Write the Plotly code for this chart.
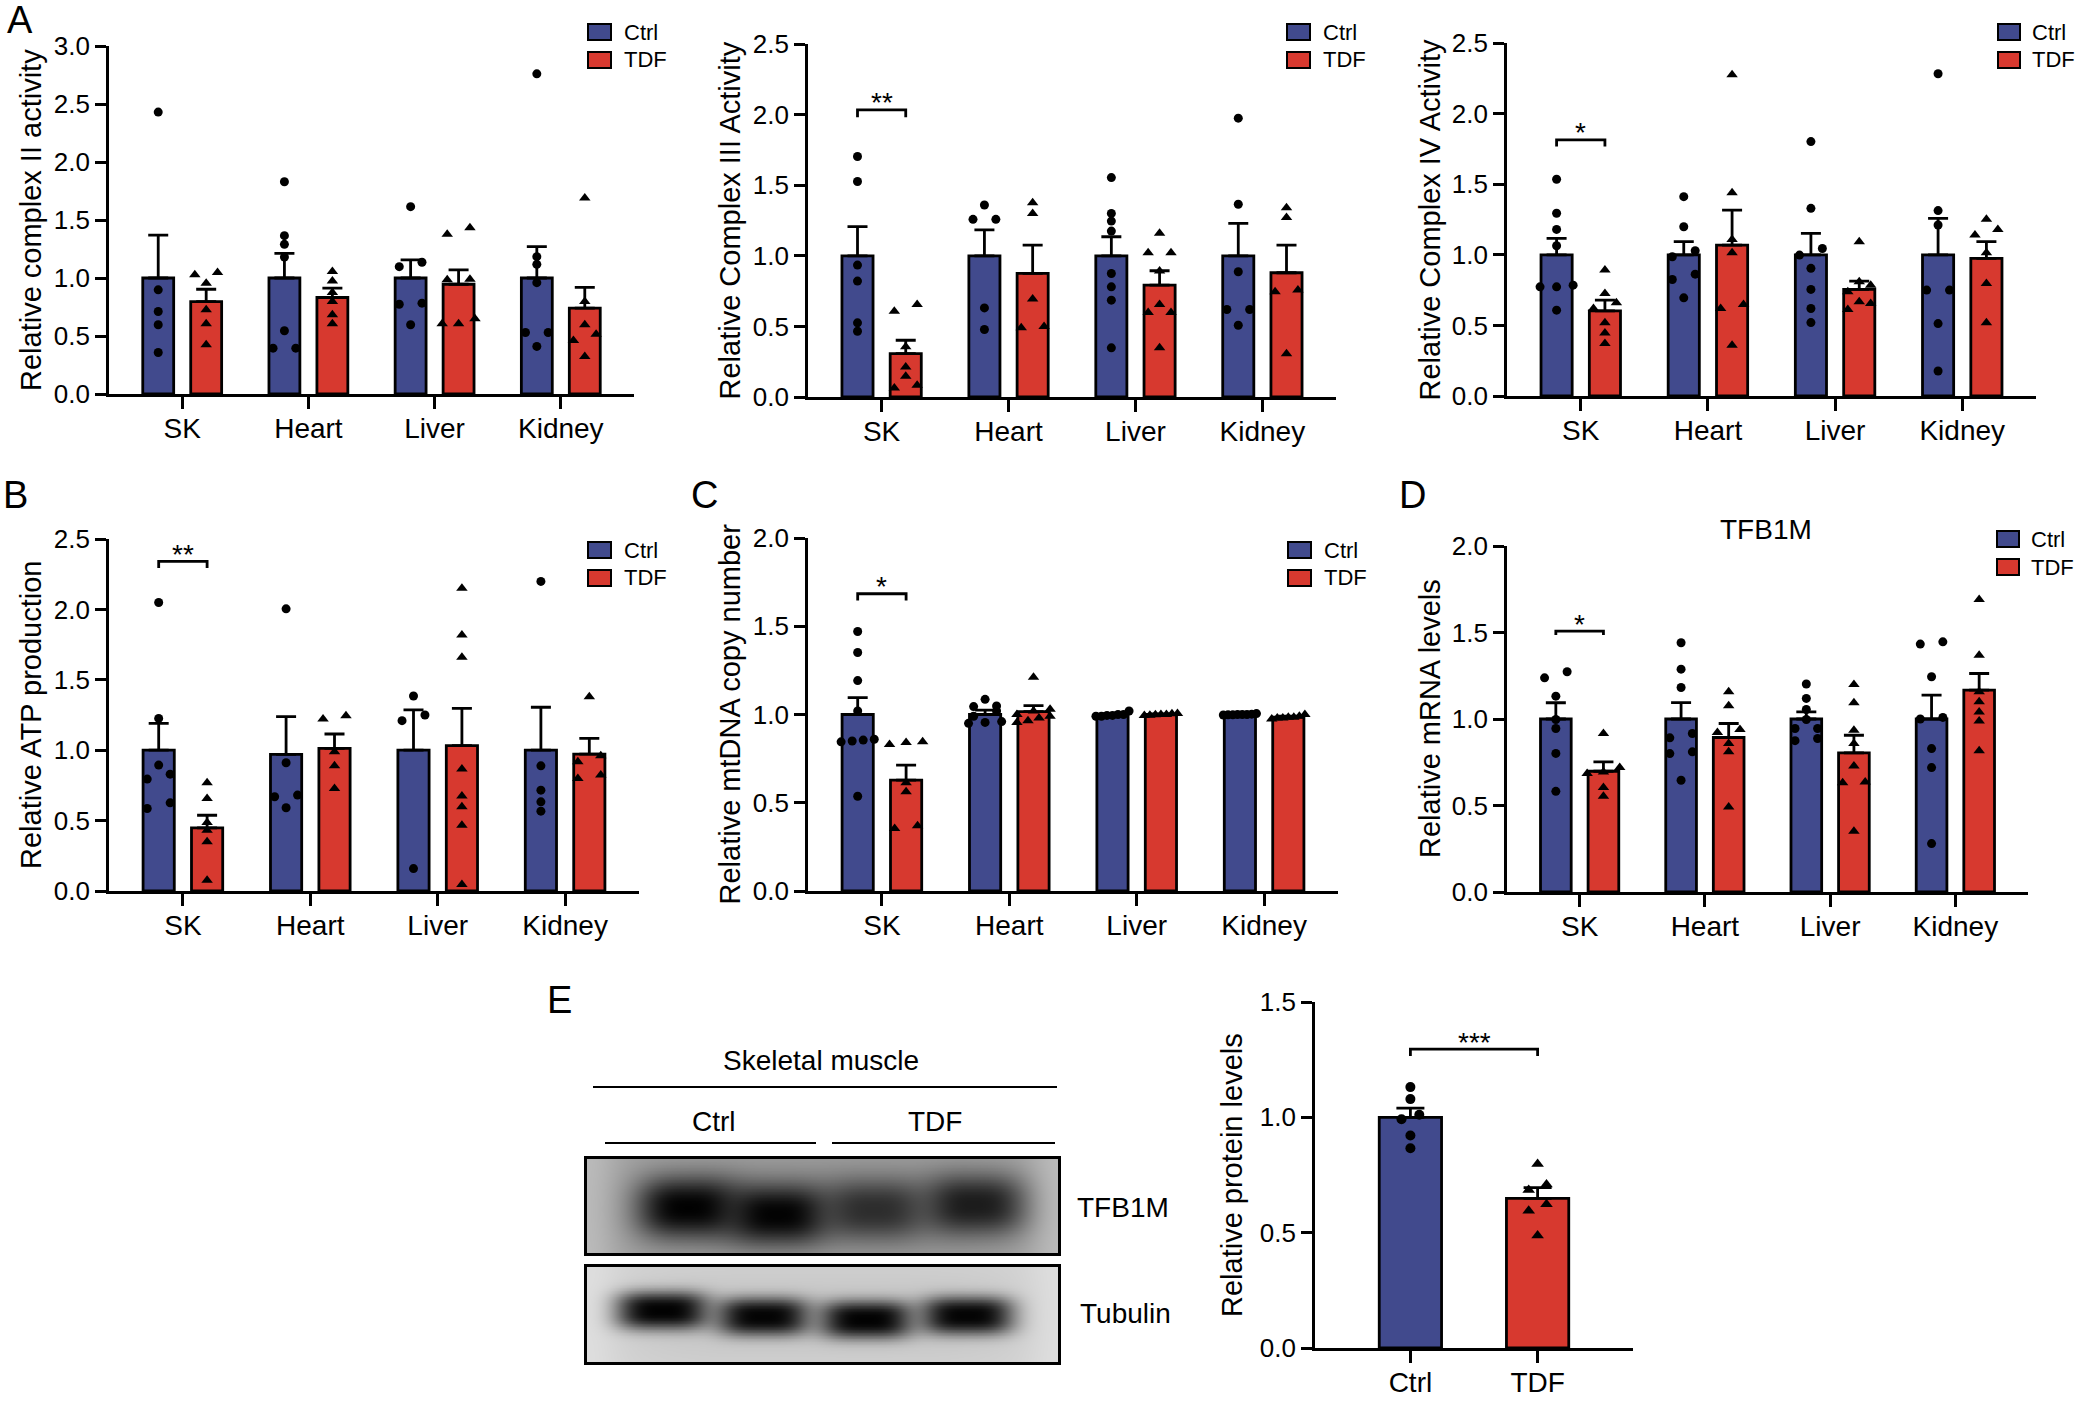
import numpy as np
import plotly.graph_objects as go

W, H = 2079, 1402
FONT = "Arial, 'Liberation Sans', Helvetica, sans-serif"
CTRL_COLOR = "#414a8d"
TDF_COLOR = "#d7392f"

# ---------------- data ----------------
organs = ["SK", "Heart", "Liver", "Kidney"]

# A - Complex II
c2_ctrl_mean = [1.0, 1.0, 1.0, 1.0]
c2_ctrl_sem = [0.37, 0.213, 0.156, 0.27]
c2_tdf_mean = [0.797, 0.832, 0.946, 0.74]
c2_tdf_sem = [0.106, 0.08, 0.124, 0.18]
c2_ctrl_pts = [[2.43, 0.898, 0.711, 0.597, 0.358],
               [1.83, 1.365, 1.29, 1.18, 0.545, 0.395, 0.395],
               [1.615, 1.136, 1.098, 0.783, 0.774, 0.597],
               [2.76, 1.184, 1.118, 0.96, 0.53, 0.53, 0.41]]
c2_tdf_pts = [[1.027, 1.047, 0.955, 0.726, 0.605, 0.424],
              [1.055, 0.975, 0.875, 0.797, 0.683, 0.605],
              [1.434, 1.377, 0.984, 0.99, 0.648, 0.605, 0.605],
              [1.69, 0.797, 0.597, 0.516, 0.462, 0.324]]

# A - Complex III
c3_ctrl_mean = [1.0, 1.0, 1.0, 1.0]
c3_ctrl_sem = [0.206, 0.183, 0.135, 0.23]
c3_tdf_mean = [0.307, 0.875, 0.792, 0.88]
c3_tdf_sem = [0.095, 0.201, 0.102, 0.196]
c3_ctrl_pts = [[1.703, 1.526, 0.934, 0.821, 0.525, 0.466],
               [1.36, 1.258, 1.258, 0.631, 0.478],
               [1.554, 1.30, 1.246, 1.175, 0.875, 0.78, 0.686, 0.348],
               [1.975, 1.365, 0.887, 0.62, 0.62, 0.508]]
c3_tdf_pts = [[0.655, 0.608, 0.355, 0.213, 0.147, 0.083, 0.064],
              [1.376, 1.30, 0.694, 0.49, 0.50],
              [1.159, 1.022, 1.022, 0.892, 0.655, 0.598, 0.598, 0.348],
              [1.341, 1.272, 0.757, 0.745, 0.307]]

# A - Complex IV
c4_ctrl_mean = [1.0, 1.0, 1.0, 1.0]
c4_ctrl_sem = [0.116, 0.093, 0.152, 0.258]
c4_tdf_mean = [0.603, 1.069, 0.755, 0.974]
c4_tdf_sem = [0.076, 0.248, 0.059, 0.119]
c4_ctrl_pts = [[1.535, 1.294, 1.18, 1.064, 0.785, 0.773, 0.773, 0.608],
               [1.412, 1.199, 1.029, 0.986, 0.863, 0.825, 0.695],
               [1.802, 1.329, 1.045, 0.998, 0.904, 0.755, 0.62, 0.52],
               [2.282, 1.313, 1.211, 0.75, 0.75, 0.513, 0.177]]
c4_tdf_pts = [[0.892, 0.726, 0.66, 0.62, 0.518, 0.447, 0.371],
              [2.275, 1.44, 1.109, 1.015, 0.648, 0.62, 0.36],
              [1.093, 0.809, 0.785, 0.738, 0.667, 0.655, 0.613],
              [1.251, 1.18, 1.14, 1.015, 0.797, 0.518]]

# B - ATP production
atp_ctrl_mean = [1.0, 0.97, 1.0, 1.0]
atp_ctrl_sem = [0.19, 0.268, 0.286, 0.305]
atp_tdf_mean = [0.448, 1.013, 1.032, 0.972]
atp_tdf_sem = [0.09, 0.102, 0.265, 0.112]
atp_ctrl_pts = [[2.049, 1.226, 0.894, 0.83, 0.795, 0.626, 0.586],
                [2.004, 0.911, 0.681, 0.669, 0.591],
                [1.385, 1.25, 1.21, 0.159],
                [2.199, 0.889, 0.716, 0.633, 0.567]]
atp_tdf_pts = [[0.768, 0.657, 0.486, 0.432, 0.349, 0.076],
               [1.245, 1.222, 0.989, 0.889, 0.728],
               [2.151, 1.819, 1.66, 0.866, 0.674, 0.598, 0.467, 0.047],
               [1.38, 0.96, 0.918, 0.823, 0.799]]

# C - mtDNA copy number
mt_ctrl_mean = [1.0, 1.0, 1.0, 1.0]
mt_ctrl_sem = [0.096, 0.025, 0.004, 0.003]
mt_tdf_mean = [0.628, 1.016, 1.0, 0.985]
mt_tdf_sem = [0.085, 0.034, 0.003, 0.006]
mt_ctrl_pts = [[1.47, 1.351, 1.192, 1.02, 0.86, 0.855, 0.85, 0.845, 0.537],
               [1.086, 1.048, 1.045, 1.02, 0.99, 0.96, 0.955, 0.95],
               [1.02, 1.0, 1.0, 0.995, 0.995, 0.99, 0.99],
               [1.005, 1.0, 1.0, 0.998, 0.997, 1.0, 1.002, 0.998]]
mt_tdf_pts = [[0.845, 0.83, 0.842, 0.613, 0.562, 0.369, 0.354],
              [1.211, 1.03, 1.02, 1.0, 0.99, 0.98, 0.965, 0.955],
              [1.005, 1.0, 1.0, 0.998, 0.996, 0.995, 1.004],
              [1.0, 0.99, 0.985, 0.98, 0.975, 0.98, 0.985]]

# D - TFB1M mRNA
mrna_ctrl_mean = [1.0, 1.0, 1.0, 1.0]
mrna_ctrl_sem = [0.094, 0.095, 0.041, 0.138]
mrna_tdf_mean = [0.698, 0.893, 0.804, 1.167]
mrna_tdf_sem = [0.054, 0.081, 0.102, 0.096]
mrna_ctrl_pts = [[1.273, 1.238, 1.132, 0.997, 0.945, 0.801, 0.582],
                 [1.441, 1.288, 1.182, 0.916, 0.891, 0.81, 0.8, 0.646],
                 [1.202, 1.119, 1.055, 0.997, 0.945, 0.945, 0.887, 0.875],
                 [1.433, 1.446, 1.244, 1.009, 1.0, 0.829, 0.719, 0.28]]
mrna_tdf_pts = [[0.916, 0.719, 0.694, 0.685, 0.604, 0.553],
                [1.157, 1.076, 0.939, 0.922, 0.858, 0.81, 0.492],
                [1.2, 1.094, 0.935, 0.858, 0.729, 0.636, 0.631, 0.351],
                [1.691, 1.369, 1.157, 1.099, 1.041, 0.989, 0.816]]

# E - protein levels
prot_groups = ["Ctrl", "TDF"]
prot_mean = [1.0, 0.649]
prot_sem = [0.04, 0.046]
prot_ctrl_pts = [1.131, 1.079, 1.011, 0.992, 0.921, 0.866]
prot_tdf_pts = [0.798, 0.709, 0.685, 0.623, 0.595, 0.488]

# blot band darkness (0..1)
tfb1m_band_strength = [0.99, 0.98, 0.66, 0.8]
tubulin_band_strength = [0.99, 0.98, 0.99, 0.98]

# significance brackets: (bracket top, tick bottom, label)
c3_sig = (2.034, 1.982, "**")
c4_sig = (1.814, 1.767, "*")
atp_sig = (2.341, 2.294, "**")
mt_sig = (1.684, 1.646, "*")
mrna_sig = (1.508, 1.485, "*")
prot_sig = (1.296, 1.266, "***")

# ---------------- helpers ----------------
def px(x):
    return x / W


def py(y):
    return 1 - y / H


def swarm(vals, pxpu, d=0.18, maxspread=0.26, tol_px=7.0):
    order = sorted(range(len(vals)), key=lambda i: vals[i])
    offs = [0.0] * len(vals)
    rows = []
    for i in order:
        if rows and (vals[i] - vals[rows[-1][0]]) * pxpu < tol_px:
            rows[-1].append(i)
        else:
            rows.append([i])
    for row in rows:
        k = len(row)
        if k > 1:
            spread = min((k - 1) * d, maxspread)
            for j, i in enumerate(row):
                offs[i] = -spread / 2 + spread * j / (k - 1)
    return offs


fig = go.Figure()
layout = dict(width=W, height=H, margin=dict(l=0, r=0, t=0, b=0, pad=0), autosize=False,
              template="none",
              paper_bgcolor="white", plot_bgcolor="rgba(0,0,0,0)",
              barmode="overlay", showlegend=False,
              font=dict(family=FONT, color="black"))
annotations = []
shapes = []

OFF = 0.19
BW = 0.245
LW = 2.8
XSTAND = -5

panels = [
    dict(x0=109, x1=634, ytop=46, ybot=394, ymax=3.0, title="Relative complex II activity", tx=31,
         cm=c2_ctrl_mean, cs=c2_ctrl_sem, tm=c2_tdf_mean, ts=c2_tdf_sem, cp=c2_ctrl_pts, tp=c2_tdf_pts,
         sig=None, leg=(588, 611, 32, 60, 622)),
    dict(x0=808, x1=1336, ytop=44, ybot=397, ymax=2.5, title="Relative Complex III Activity", tx=729,
         cm=c3_ctrl_mean, cs=c3_ctrl_sem, tm=c3_tdf_mean, ts=c3_tdf_sem, cp=c3_ctrl_pts, tp=c3_tdf_pts,
         sig=c3_sig, leg=(1287, 1310, 32, 60, 1321)),
    dict(x0=1507, x1=2036, ytop=43, ybot=396, ymax=2.5, title="Relative Complex IV Activity", tx=1429,
         cm=c4_ctrl_mean, cs=c4_ctrl_sem, tm=c4_tdf_mean, ts=c4_tdf_sem, cp=c4_ctrl_pts, tp=c4_tdf_pts,
         sig=c4_sig, leg=(1998, 2020, 32, 60, 2030)),
    dict(x0=109, x1=639, ytop=539, ybot=891, ymax=2.5, title="Relative ATP production", tx=31,
         cm=atp_ctrl_mean, cs=atp_ctrl_sem, tm=atp_tdf_mean, ts=atp_tdf_sem, cp=atp_ctrl_pts, tp=atp_tdf_pts,
         sig=atp_sig, leg=(588, 611, 550, 578, 622)),
    dict(x0=808, x1=1338, ytop=538, ybot=891, ymax=2.0, title="Relative mtDNA copy number", tx=729,
         cm=mt_ctrl_mean, cs=mt_ctrl_sem, tm=mt_tdf_mean, ts=mt_tdf_sem, cp=mt_ctrl_pts, tp=mt_tdf_pts,
         sig=mt_sig, leg=(1288, 1311, 550, 578, 1322)),
    dict(x0=1507, x1=2028, ytop=546, ybot=892, ymax=2.0, title="Relative mRNA levels", tx=1430,
         cm=mrna_ctrl_mean, cs=mrna_ctrl_sem, tm=mrna_tdf_mean, ts=mrna_tdf_sem, cp=mrna_ctrl_pts, tp=mrna_tdf_pts,
         sig=mrna_sig, leg=(1997, 2019, 539, 567, 2029)),
]


def axis_common():
    return dict(showline=True, linecolor="black", linewidth=LW, ticks="outside",
                tickwidth=LW, tickcolor="black", showgrid=False, zeroline=False,
                fixedrange=True, automargin=False)


for i, p in enumerate(panels, start=1):
    xr = "x" if i == 1 else f"x{i}"
    yr = "y" if i == 1 else f"y{i}"
    xa = "xaxis" if i == 1 else f"xaxis{i}"
    ya = "yaxis" if i == 1 else f"yaxis{i}"
    n = len(organs)
    layout[xa] = dict(axis_common(), domain=[px(p["x0"]), px(p["x1"])], range=[-0.58, n - 1 + 0.58],
                      tickvals=list(range(n)), ticktext=organs, ticklen=12,
                      tickfont=dict(size=28, family=FONT, color="black"), anchor=yr,
                      ticklabelstandoff=XSTAND)
    layout[ya] = dict(axis_common(), domain=[py(p["ybot"]), py(p["ytop"])], range=[0, p["ymax"]],
                      dtick=0.5, tick0=0, tickformat=".1f", ticklen=11,
                      tickfont=dict(size=26, family=FONT, color="black"), anchor=xr)
    pxpu = (p["ybot"] - p["ytop"]) / p["ymax"]
    for mean, sem, pts, color, sign, sym, msize in [
        (p["cm"], p["cs"], p["cp"], CTRL_COLOR, -1, "circle", 9),
        (p["tm"], p["ts"], p["tp"], TDF_COLOR, 1, "triangle-up", 10),
    ]:
        xs = [k + sign * OFF for k in range(n)]
        fig.add_trace(go.Bar(x=xs, y=mean, width=BW, xaxis=xr, yaxis=yr,
                             marker=dict(color=color, line=dict(color="black", width=LW)),
                             error_y=dict(type="data", symmetric=False, array=sem,
                                          arrayminus=[0] * n, color="black",
                                          thickness=LW, width=10),
                             hoverinfo="skip"))
        px_list, py_list = [], []
        for k, vals in enumerate(pts):
            offs = swarm(vals, pxpu)
            px_list += [xs[k] + o for o in offs]
            py_list += list(vals)
        fig.add_trace(go.Scatter(x=px_list, y=py_list, mode="markers", xaxis=xr, yaxis=yr,
                                 marker=dict(symbol=sym, size=msize, color="black", line=dict(width=0)),
                                 cliponaxis=False, hoverinfo="skip"))
    if p["sig"]:
        top, bot, lab = p["sig"]
        fig.add_trace(go.Scatter(x=[-OFF, -OFF, OFF, OFF], y=[bot, top, top, bot], mode="lines",
                                 xaxis=xr, yaxis=yr, line=dict(color="black", width=LW),
                                 cliponaxis=False, hoverinfo="skip"))
        annotations.append(dict(x=0, y=top, xref=xr, yref=yr, text=lab, showarrow=False,
                                xanchor="center", yanchor="middle", yshift=7,
                                font=dict(size=28, family=FONT, color="black")))
    # y title
    annotations.append(dict(x=px(p["tx"]), y=py((p["ytop"] + p["ybot"]) / 2), xref="paper", yref="paper",
                            text=p["title"], textangle=-90, showarrow=False,
                            xanchor="center", yanchor="middle",
                            font=dict(size=29, family=FONT, color="black")))
    # legend
    lx0, lx1, yc, yt, tx = p["leg"]
    for yy, col, lab in [(yc, CTRL_COLOR, "Ctrl"), (yt, TDF_COLOR, "TDF")]:
        shapes.append(dict(type="rect", xref="paper", yref="paper",
                           x0=px(lx0), x1=px(lx1), y0=py(yy + 8), y1=py(yy - 8),
                           fillcolor=col, line=dict(color="black", width=2)))
        annotations.append(dict(x=px(tx), y=py(yy), xref="paper", yref="paper", text=lab,
                                showarrow=False, xanchor="left", yanchor="middle",
                                font=dict(size=22, family=FONT, color="black")))

# ---------------- panel E bar chart ----------------
layout["xaxis7"] = dict(axis_common(), domain=[px(1315), px(1633)], range=[-0.75, 1.75],
                        tickvals=[0, 1], ticktext=prot_groups, ticklen=12,
                        tickfont=dict(size=28, family=FONT, color="black"), anchor="y7",
                        ticklabelstandoff=XSTAND)
layout["yaxis7"] = dict(axis_common(), domain=[py(1348), py(1002)], range=[0, 1.5], dtick=0.5,
                        tick0=0, tickformat=".1f", ticklen=11,
                        tickfont=dict(size=26, family=FONT, color="black"), anchor="x7")
fig.add_trace(go.Bar(x=[0, 1], y=prot_mean, width=0.49, xaxis="x7", yaxis="y7",
                     marker=dict(color=[CTRL_COLOR, TDF_COLOR], line=dict(color="black", width=LW)),
                     error_y=dict(type="data", symmetric=False, array=prot_sem, arrayminus=[0, 0],
                                  color="black", thickness=LW, width=14),
                     hoverinfo="skip"))
pxpu_e = (1348 - 1002) / 1.5
for k, (vals, sym, ms) in enumerate([(prot_ctrl_pts, "circle", 10), (prot_tdf_pts, "triangle-up", 11)]):
    offs = swarm(vals, pxpu_e, d=0.14, maxspread=0.2)
    fig.add_trace(go.Scatter(x=[k + o for o in offs], y=vals, mode="markers", xaxis="x7", yaxis="y7",
                             marker=dict(symbol=sym, size=ms, color="black", line=dict(width=0)),
                             cliponaxis=False, hoverinfo="skip"))
top, bot, lab = prot_sig
fig.add_trace(go.Scatter(x=[0, 0, 1, 1], y=[bot, top, top, bot], mode="lines", xaxis="x7", yaxis="y7",
                         line=dict(color="black", width=LW), cliponaxis=False, hoverinfo="skip"))
annotations.append(dict(x=0.5, y=top, xref="x7", yref="y7", text=lab, showarrow=False,
                        xanchor="center", yanchor="middle", yshift=7,
                        font=dict(size=28, family=FONT, color="black")))
annotations.append(dict(x=px(1232), y=py(1175), xref="paper", yref="paper", text="Relative protein levels",
                        textangle=-90, showarrow=False, xanchor="center", yanchor="middle",
                        font=dict(size=29, family=FONT, color="black")))

# ---------------- western blot (heatmaps) ----------------
BL, BR = 587, 1058
blot_w = BR - BL


def blot_image(strengths, centers, cys, hgt, bg, wx, wy, ex, ey, halo, edge_light):
    xs = np.arange(0, blot_w + 1, 2.0)
    ys = np.arange(0, hgt + 1, 1.5)
    X, Y = np.meshgrid(xs, ys)
    keep = np.ones_like(X)
    for s, cx, cy in zip(strengths, centers, cys):
        prof = np.exp(-(np.abs(X - cx) / wx) ** ex - (np.abs(Y - cy) / wy) ** ey)
        keep *= (1 - s * prof)
    mid = np.mean(cys)
    base = bg + halo * np.exp(-((Y - mid) / (hgt * 0.5)) ** 2) * np.exp(-(np.abs(X - blot_w / 2) / (blot_w * 0.42)) ** 6)
    base -= edge_light * (np.exp(-(X / 30.0) ** 2) + np.exp(-((blot_w - X) / 30.0) ** 2))
    Z = 1 - (1 - np.clip(base, 0, 1)) * keep
    return xs, ys, Z


blots = [
    (8, 1159, 1253, tfb1m_band_strength, [101, 190, 287, 388], [48, 55, 50, 45],
     0.36, 50, 30, 3.0, 2.4, 0.12, 0.09),
    (9, 1267, 1362, tubulin_band_strength, [75, 176, 279, 380], [43, 49, 52, 48],
     0.17, 46, 19, 3.4, 2.8, 0.06, 0.04),
]
for idx, ytop, ybot, strengths, centers, cys, bg, wx, wy, ex, ey, halo, edge in blots:
    hgt = ybot - ytop
    xs, ys, Z = blot_image(strengths, centers, cys, hgt, bg, wx, wy, ex, ey, halo, edge)
    fig.add_trace(go.Heatmap(x=xs, y=ys, z=Z, xaxis=f"x{idx}", yaxis=f"y{idx}",
                             colorscale=[[0, "#ffffff"], [1, "#000000"]], zmin=0, zmax=1,
                             showscale=False, zsmooth="best", hoverinfo="skip"))
    layout[f"xaxis{idx}"] = dict(domain=[px(BL), px(BR)], range=[0, blot_w], showline=True, mirror=True,
                                 linecolor="black", linewidth=2.5, showticklabels=False, ticks="",
                                 showgrid=False, zeroline=False, anchor=f"y{idx}", fixedrange=True,
                                 automargin=False)
    layout[f"yaxis{idx}"] = dict(domain=[py(ybot), py(ytop)], range=[hgt, 0], showline=True, mirror=True,
                                 linecolor="black", linewidth=2.5, showticklabels=False, ticks="",
                                 showgrid=False, zeroline=False, anchor=f"x{idx}", fixedrange=True,
                                 automargin=False)

# blot header lines and labels
for x0, x1, yy in [(593, 1057, 1087), (605, 816, 1143), (832, 1055, 1143)]:
    shapes.append(dict(type="line", xref="paper", yref="paper", x0=px(x0), x1=px(x1), y0=py(yy), y1=py(yy),
                       line=dict(color="black", width=2)))
for txt, xx, yy in [("Skeletal muscle", 821, 1060), ("Ctrl", 714, 1121), ("TDF", 935, 1121),
                    ("TFB1M", 1123, 1207), ("Tubulin", 1125, 1313)]:
    annotations.append(dict(x=px(xx), y=py(yy), xref="paper", yref="paper", text=txt, showarrow=False,
                            xanchor="center", yanchor="middle", font=dict(size=28, family=FONT, color="black")))

# D title
annotations.append(dict(x=px(1766), y=py(529), xref="paper", yref="paper", text="TFB1M", showarrow=False,
                        xanchor="center", yanchor="middle", font=dict(size=28, family=FONT, color="black")))

# panel letters
for txt, xx, yy in [("A", 20, 20), ("B", 15, 495), ("C", 704, 495), ("D", 1412, 495), ("E", 559, 1000)]:
    annotations.append(dict(x=px(xx), y=py(yy), xref="paper", yref="paper", text=txt, showarrow=False,
                            xanchor="center", yanchor="middle", font=dict(size=38, family=FONT, color="black")))

layout["annotations"] = annotations
layout["shapes"] = shapes
fig.update_layout(**layout)

fig.write_html("out.html", config={"displayModeBar": False},
               post_script="document.body.style.margin='0';document.body.style.overflow='hidden';")
